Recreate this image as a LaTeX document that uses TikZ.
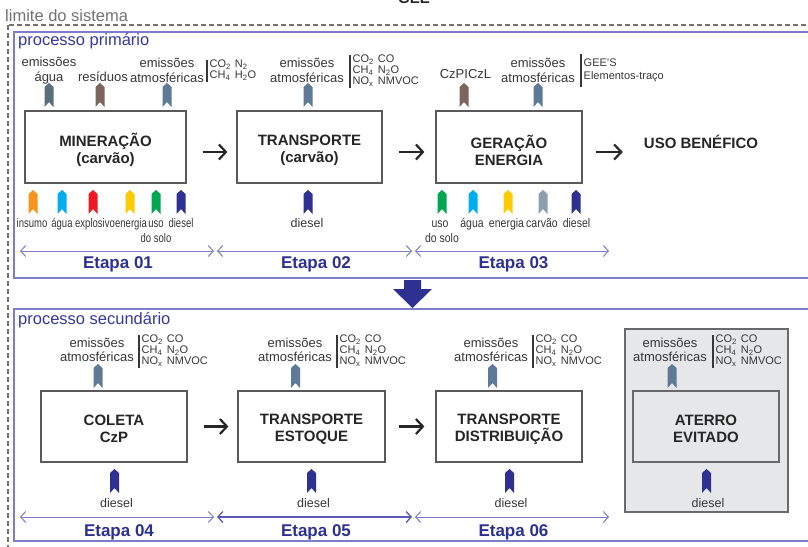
\documentclass[tikz,border=0pt]{standalone}
\usepackage{fontspec}
\setmainfont{Liberation Sans}
\newfontfamily\narrowfont[FakeStretch=0.76]{Liberation Sans}
\newfontfamily\semifont[FakeStretch=0.84]{Liberation Sans}
\usetikzlibrary{arrows.meta}

\definecolor{txt}{RGB}{55,55,55}
\definecolor{limgray}{RGB}{115,115,115}
\definecolor{lav}{RGB}{125,125,200}
\definecolor{lavdark}{RGB}{90,90,180}
\definecolor{procblue}{RGB}{55,55,165}
\definecolor{navy}{RGB}{46,49,146}
\definecolor{mkorange}{RGB}{247,148,29}
\definecolor{mkcyan}{RGB}{0,174,239}
\definecolor{mkred}{RGB}{237,28,36}
\definecolor{mkyellow}{RGB}{255,203,5}
\definecolor{mkgreen}{RGB}{0,166,81}
\definecolor{mkslate}{RGB}{94,122,150}
\definecolor{mkteal}{RGB}{90,112,120}
\definecolor{mkbrown}{RGB}{125,100,92}
\definecolor{mkgray}{RGB}{140,160,172}
\definecolor{boxline}{RGB}{90,90,90}
\definecolor{landfill}{RGB}{230,231,232}
\definecolor{landline}{RGB}{105,105,108}

\newcommand\fsz[2]{\fontsize{#1}{#2}\selectfont}
\newcommand\chemrows[1]{\begin{tabular}{@{}l@{\hspace{4pt}}l@{}}#1\end{tabular}}

\tikzset{
  procbox/.style={draw=boxline, line width=1.2pt, fill=white, inner sep=0pt},
  boxtext/.style={align=center, font=\bfseries\fsz{15}{17}, text=black!85, inner sep=0pt},
  emis/.style={align=center, font=\fsz{13}{14.5}, text=txt, inner sep=0pt},
  lbl/.style={font=\fsz{13}{14}, text=txt, inner sep=0pt, anchor=base},
  dlbl/.style={font=\fsz{12.5}{14}, text=txt, inner sep=0pt, anchor=base},
  nlbl/.style={font=\narrowfont\fsz{12.5}{14}, text=txt, inner sep=0pt, anchor=base},
  slbl/.style={font=\semifont\fsz{12.5}{14}, text=txt, inner sep=0pt, anchor=base},
  chem/.style={font=\fsz{11}{10.5}, text=txt, inner xsep=2.5pt, inner ysep=0pt, anchor=north west},
  chembar/.style={draw=txt, line width=1.1pt},
  etapa/.style={font=\bfseries\fsz{17}{19}, text=navy, inner sep=0pt, anchor=base},
  span/.style={draw=lav, line width=1pt,
    {Straight Barb[length=5pt,width=11pt]}-{Straight Barb[length=5pt,width=11pt]}},
  flow/.style={draw=black!85, line width=2.2pt, -{Straight Barb[length=7pt,width=15pt]},
    shorten <=16pt, shorten >=9pt},
  region/.style={draw=lav, line width=1.3pt},
  title/.style={font=\fsz{16.5}{18}, anchor=base west, inner sep=0pt},
  flagmark/.pic={\fill[pic actions] (-4.5,4) -- (0,0) -- (4.5,4) -- (4.5,24) -- (0,19) -- (-4.5,24) -- cycle;},
}

\begin{document}
\begin{tikzpicture}[x=1pt,y=-1pt]
\useasboundingbox (0,0) rectangle (808,546);
\fill[white] (0,0) rectangle (808,546);

% heading above the page edge
\node[font=\bfseries\fsz{15}{17}, text=black!85, anchor=base, inner sep=0pt] (gee) at (414,3) {GEE};

% system boundary
\draw[limgray, line width=2.4pt, dash pattern=on 5pt off 3pt] (8,25) rectangle (840,580);
\node[title, text=limgray] (lim) at (5,21) {limite do sistema};

% ---------------- primary process ----------------
\draw[region] (14,32) rectangle (840,278);
\node[title, text=procblue] (pp) at (18,45) {processo primário};

\node[procbox, minimum width=161pt, minimum height=72pt] (min) at (105.5,147) {};
\node[procbox, minimum width=145pt, minimum height=72pt] (tra) at (309.5,147) {};
\node[procbox, minimum width=146pt, minimum height=72pt] (ger) at (509,147) {};
\node[boxtext] (minT) at ([yshift=-3pt]min.center) {MINERAÇÃO\\(carvão)};
\node[boxtext] (traT) at ([yshift=-3pt]tra.center) {TRANSPORTE\\(carvão)};
\node[boxtext] (gerT) at ([yshift=-3pt]ger.center) {GERAÇÃO\\ENERGIA};
\node[font=\bfseries\fsz{15}{17}, text=black!85, inner sep=0pt] (uso) at (701,142) {USO BENÉFICO};

\draw[flow] ([yshift=-5pt]min.east) -- ([yshift=-5pt]tra.west);
\draw[flow, shorten >=11pt] ([yshift=-5pt]tra.east) -- ([yshift=-5pt]ger.west);
\draw[flow, shorten <=13pt, shorten >=21pt] ([yshift=-5pt]ger.east) -- ([yshift=-5pt]ger.east -| uso.west);

% outputs of the primary stages
\pic[fill=mkteal]  at (49,83)  {flagmark};
\pic[fill=mkbrown] at (100,83) {flagmark};
\pic[fill=mkslate] at (167,83) {flagmark};
\pic[fill=mkslate] at (308,83) {flagmark};
\pic[fill=mkbrown] at (464,83) {flagmark};
\pic[fill=mkslate] at (538,83) {flagmark};

\node[emis] (e1) at (49,70.5) {emissões\\água};
\node[lbl]  (e2) at (103,81.5) {resíduos};
\node[emis] (e3) at (167,70.5) {emissões\\atmosféricas};
\node[chem, font=\fsz{11}{11}] (c1) at (207,60) {\chemrows{CO\textsubscript{2} & N\textsubscript{2}\\CH\textsubscript{4} & H\textsubscript{2}O}};
\draw[chembar] (c1.north west) -- (c1.south west);

\node[emis] (e4) at (307,70.5) {emissões\\atmosféricas};
\node[chem] (c2) at (350,55) {\chemrows{CO\textsubscript{2} & CO\\CH\textsubscript{4} & N\textsubscript{2}O\\NO\textsubscript{x} & NMVOC}};
\draw[chembar] (c2.north west) -- (c2.south west);

\node[lbl]  (e5) at (465.5,78.5) {CzPICzL};
\node[emis] (e6) at (538,70.5) {emissões\\atmosféricas};
\node[chem, font=\fsz{11}{13}, inner ysep=3.5pt] (c3) at (581,54) {\begin{tabular}{@{}l@{}}GEE'S\\Elementos-traço\end{tabular}};
\draw[chembar] (c3.north west) -- (c3.south west);

% inputs of the primary stages
\pic[fill=mkorange] at (33,190)  {flagmark};
\pic[fill=mkcyan]   at (62,190)  {flagmark};
\pic[fill=mkred]    at (93,190)  {flagmark};
\pic[fill=mkyellow] at (130,190) {flagmark};
\pic[fill=mkgreen]  at (156,190) {flagmark};
\pic[fill=navy]     at (181,190) {flagmark};
\node[nlbl] (i1) at (32,227.5)  {insumo};
\node[nlbl] (i2) at (62,227.5)  {água};
\node[nlbl] (i3) at (95,227.5)  {explosivo};
\node[nlbl] (i4) at (131,227.5) {energia};
\node[nlbl] (i5) at (156,227.5) {uso};
\node[nlbl] (i6) at (181,227.5) {diesel};
\node[nlbl] (i7) at (156,242)   {do solo};

\pic[fill=navy] at (308,190) {flagmark};
\node[dlbl] (i8) at (307,227.5) {diesel};

\pic[fill=mkgreen]  at (442,190) {flagmark};
\pic[fill=mkcyan]   at (473,190) {flagmark};
\pic[fill=mkyellow] at (508,190) {flagmark};
\pic[fill=mkgray]   at (543,190) {flagmark};
\pic[fill=navy]     at (576,190) {flagmark};
\node[slbl] (g1) at (440,227.5) {uso};
\node[slbl] (g2) at (442,242)   {do solo};
\node[slbl] (g3) at (472,227.5) {água};
\node[slbl] (g4) at (506.5,227.5) {energia};
\node[slbl] (g5) at (542,227.5) {carvão};
\node[slbl] (g6) at (576.5,227.5) {diesel};

% stage spans
\coordinate (s1a) at (20,251);  \coordinate (s1b) at (214,251);
\coordinate (s2a) at (217,251); \coordinate (s2b) at (412,251);
\coordinate (s3a) at (415,251); \coordinate (s3b) at (609,251);
\draw[span] (s1a) -- (s1b);
\draw[span] (s2a) -- (s2b);
\draw[span] (s3a) -- (s3b);
\node[etapa] (t1) at (118,268.5) {Etapa 01};
\node[etapa] (t2) at (316,268.5) {Etapa 02};
\node[etapa] (t3) at (513.5,268.5) {Etapa 03};

% link between the two processes
\fill[navy] (404,280) -- (421,280) -- (421,289) -- (432,289) -- (412.5,308) -- (393,289) -- (404,289) -- cycle;

% ---------------- secondary process ----------------
\draw[region] (14,309) rectangle (840,541);
\node[title, text=procblue] (ps) at (18,324) {processo secundário};

\node[draw=landline, fill=landfill, line width=2.2pt, minimum width=163pt, minimum height=183pt, inner sep=0pt] (zone) at (706.5,420.5) {};

\node[procbox, minimum width=146pt, minimum height=71pt] (col) at (114,426.5) {};
\node[procbox, minimum width=147pt, minimum height=71pt] (tre) at (311.5,426.5) {};
\node[procbox, minimum width=146pt, minimum height=71pt] (trd) at (509,426.5) {};
\node[procbox, fill=landfill, draw=landline, minimum width=146pt, minimum height=71pt] (ate) at (706,426.5) {};
\node[boxtext] (colT) at ([yshift=-2.5pt]col.center) {COLETA\\CzP};
\node[boxtext] (treT) at ([yshift=-2.5pt]tre.center) {TRANSPORTE\\ESTOQUE};
\node[boxtext] (trdT) at ([yshift=-2.5pt]trd.center) {TRANSPORTE\\DISTRIBUIÇÃO};
\node[boxtext] (ateT) at ([yshift=-2.5pt]ate.center) {ATERRO\\EVITADO};

\draw[flow] (col.east) -- (tre.west);
\draw[flow, shorten <=13pt, shorten >=11pt] (tre.east) -- (trd.west);

% emissions of the secondary stages
\foreach \ex/\mx/\bx/\nm in {97/98/139/a, 295/295.5/337/b, 491/492.5/533/c, 670/672/713/d}{
  \node[emis] (se\nm) at (\ex,350) {emissões\\atmosféricas};
  \pic[fill=mkslate] at (\mx,364) {flagmark};
  \node[chem] (sc\nm) at (\bx,335) {\chemrows{CO\textsubscript{2} & CO\\CH\textsubscript{4} & N\textsubscript{2}O\\NO\textsubscript{x} & NMVOC}};
  \draw[chembar] (sc\nm.north west) -- (sc\nm.south west);
}

% diesel inputs of the secondary stages
\foreach \mx/\lx/\nm in {114.5/116.5/a, 311.5/313.5/b, 509.5/511/c, 706.5/708/d}{
  \pic[fill=navy] at (\mx,469) {flagmark};
  \node[dlbl] (sd\nm) at (\lx,507) {diesel};
}

\coordinate (s4a) at (20,517);  \coordinate (s4b) at (214,517);
\coordinate (s5a) at (217,517); \coordinate (s5b) at (412,517);
\coordinate (s6a) at (415,517); \coordinate (s6b) at (609,517);
\draw[span] (s4a) -- (s4b);
\draw[span, draw=lavdark, line width=1.3pt] (s5a) -- (s5b);
\draw[span] (s6a) -- (s6b);
\node[etapa] (t4) at (119,536) {Etapa 04};
\node[etapa] (t5) at (316,536) {Etapa 05};
\node[etapa] (t6) at (513.5,536) {Etapa 06};
\end{tikzpicture}
\end{document}
